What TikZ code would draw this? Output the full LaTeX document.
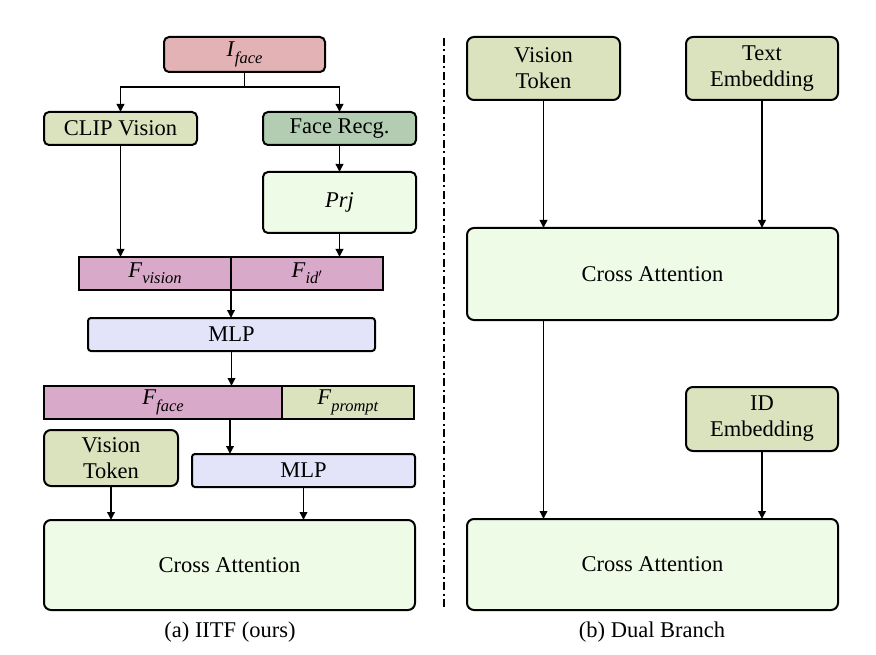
\documentclass[tikz,border=0pt]{standalone}
\usepackage{fontspec}
\IfFontExistsTF{LiberationSerif-Regular.ttf}{%
  \setmainfont{LiberationSerif}[Extension=.ttf,UprightFont=*-Regular,ItalicFont=*-Italic,BoldFont=*-Bold,BoldItalicFont=*-BoldItalic]}{%
  \setmainfont{Liberation Serif}}
\usetikzlibrary{arrows.meta,calc}
\definecolor{cIface}{HTML}{E2B2B4}
\definecolor{cFpink}{HTML}{D9A9C9}
\definecolor{cOlive}{HTML}{DAE3BE}
\definecolor{cGreen}{HTML}{B3CDB3}
\definecolor{cLight}{HTML}{EEFBE6}
\definecolor{cLav}{HTML}{E3E3F9}
\tikzset{
  box/.style={draw=black, line width=2pt, rounded corners=5pt, inner sep=0pt, outer sep=0pt, align=center,
    font=\fontsize{22.5}{26}\selectfont},
  sq/.style={box, rounded corners=0pt},
  arr/.style={line width=1.8pt, -{Triangle[length=8pt,width=7.5pt]}},
  ln/.style={line width=1.8pt},
  captext/.style={font=\fontsize{22.5}{25}\selectfont, inner sep=0pt},
}
\newcommand{\mvar}[2]{\textit{#1}\raisebox{-0.28em}{\fontsize{16.5}{16}\selectfont\textit{#2}}}
\begin{document}
\begin{tikzpicture}[x=1pt,y=-1pt]
\useasboundingbox (0,0) rectangle (876,655);
% ---------- left panel ----------
\node[box, fill=cIface, minimum width=161pt, minimum height=35pt] (iface) at (244.5,54.5) {\mvar{I}{face}};
\node[box, fill=cOlive, minimum width=153pt, minimum height=33pt] (clip) at (120.5,128.5) {CLIP Vision};
\node[box, fill=cGreen, minimum width=153pt, minimum height=33pt] (face) at (339.5,128.5) {Face Recg.};
\node[box, fill=cLight, minimum width=153pt, minimum height=61pt] (prj) at (339.5,202.5) {\textit{Prj}};
\node[sq, fill=cFpink, minimum width=152pt, minimum height=33pt] (fvis) at (155,273.5) {\mvar{F}{vision}};
\node[sq, fill=cFpink, minimum width=152pt, minimum height=33pt] (fid) at (307,273.5) {\mvar{F}{id$'$}};
\node[box, rounded corners=3pt, fill=cLav, minimum width=287pt, minimum height=33pt] (mlpa) at (231.5,334.5) {MLP};
\node[sq, fill=cFpink, minimum width=238pt, minimum height=33pt] (fface) at (163,402.5) {\mvar{F}{face}};
\node[sq, fill=cOlive, minimum width=132pt, minimum height=33pt] (fprompt) at (348,402.5) {\mvar{F}{prompt}};
\node[box, rounded corners=7pt, fill=cOlive, minimum width=134pt, minimum height=56pt] (vta) at (111,458) {Vision\\Token};
\node[box, rounded corners=3pt, fill=cLav, minimum width=223pt, minimum height=33pt] (mlpb) at (303.5,470.5) {MLP};
\node[box, rounded corners=7pt, fill=cLight, minimum width=371pt, minimum height=90pt] (caa) at (229.5,565) {Cross Attention};
\node[captext] (capa) at (230,632) {(a) IITF (ours)};

\coordinate (br) at (244.5,87);
\draw[ln] (iface.south) -- (br);
\draw[arr] (br) -| (clip.north);
\draw[arr] (br) -| (face.north);
\draw[arr] (clip.south) -- (clip.south |- fvis.north);
\draw[arr] (face.south) -- (prj.north);
\draw[arr] (prj.south) -- (prj.south |- fid.north);
\draw[arr] (fvis.south east) -- (fvis.south east |- mlpa.north);
\draw[arr] (mlpa.south) -- (mlpa.south |- fface.north);
\coordinate (ff) at (230,419);
\draw[arr] (ff) -- (ff |- mlpb.north);
\draw[arr] (vta.south) -- (vta.south |- caa.north);
\draw[arr] (mlpb.south) -- (mlpb.south |- caa.north);

% ---------- divider ----------
\coordinate (d1) at (444,38);
\coordinate (d2) at (444,610);
\draw[line width=2.2pt, dash pattern=on 8pt off 3.5pt on 2pt off 3.5pt] (d1) -- (d2);

% ---------- right panel ----------
\node[box, rounded corners=7pt, fill=cOlive, minimum width=153pt, minimum height=63pt] (vtb) at (543.5,68.5) {Vision\\Token};
\node[box, rounded corners=7pt, fill=cOlive, minimum width=152pt, minimum height=63pt] (te) at (762,68.5) {Text\\Embedding};
\node[box, rounded corners=7pt, fill=cLight, minimum width=371pt, minimum height=92pt] (cab) at (652.5,274) {Cross Attention};
\node[box, rounded corners=7pt, fill=cOlive, minimum width=152pt, minimum height=64pt] (ide) at (762,419) {ID\\Embedding};
\node[box, rounded corners=7pt, fill=cLight, minimum width=371pt, minimum height=91pt] (cac) at (652.5,564.5) {Cross Attention};
\node[captext] (capb) at (652,632) {(b) Dual Branch};

\draw[arr] (vtb.south) -- (vtb.south |- cab.north);
\draw[arr] (te.south) -- (te.south |- cab.north);
\draw[arr] (vtb.south |- cab.south) -- (vtb.south |- cac.north);
\draw[arr] (ide.south) -- (ide.south |- cac.north);
\end{tikzpicture}
\end{document}
